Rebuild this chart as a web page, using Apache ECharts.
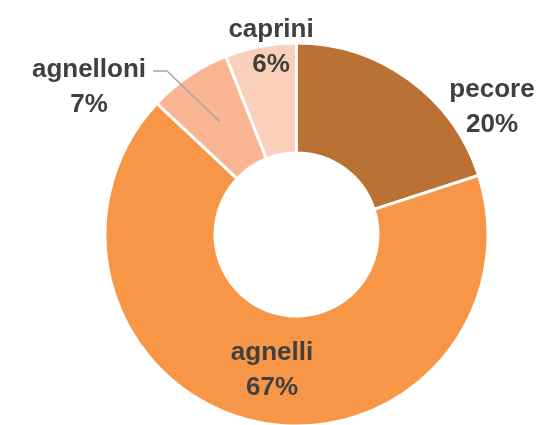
<!DOCTYPE html>
<html>
<head>
<meta charset="utf-8">
<script src="https://cdn.jsdelivr.net/npm/echarts@6/dist/echarts.min.js"></script>
<style>
html,body{margin:0;padding:0;background:#fff;}
#chart{width:551px;height:425px;}
</style>
</head>
<body>
<div id="chart"></div>
<script>
const categories = ['pecore', 'agnelli', 'agnelloni', 'caprini'];
const values = [20, 67, 7, 6];
const colors = ['#BA7134', '#F79646', '#F9B591', '#FBD0BB'];

const CX = 296.5, CY = 234.5, R_OUT = 191.5, R_IN = 81.5;
// label anchor positions (layout, not data)
const labelPos = [[492, 107], [272, 370], [89, 87], [271, 47]];

const total = values.reduce((a, b) => a + b, 0);
function midAngle(i) {
  let before = 0;
  for (let k = 0; k < i; k++) before += values[k];
  return (before + values[i] / 2) / total * Math.PI * 2; // clockwise from top
}

// leader line for "agnelloni": from slice middle to label
const li = 2;
const la = midAngle(li);
const rm = (R_IN + R_OUT) / 2;
const leaderStart = [CX + rm * Math.sin(la), CY - rm * Math.cos(la)];

const chart = echarts.init(document.getElementById('chart'));
chart.setOption({
  animation: false,
  graphic: [{
    type: 'polyline',
    z: 100,
    shape: { points: [leaderStart, [167, 71], [153, 71]] },
    style: { stroke: '#A6A6A6', lineWidth: 1.5, fill: null },
    silent: true
  }],
  series: [{
    type: 'pie',
    center: [CX, CY],
    radius: [R_IN, R_OUT],
    startAngle: 90,
    clockwise: true,
    avoidLabelOverlap: false,
    itemStyle: { borderColor: '#ffffff', borderWidth: 3 },
    label: {
      show: true,
      position: 'outside',
      formatter: '{b}\n{c}%',
      fontFamily: '"Liberation Sans", Arial, sans-serif',
      fontWeight: 'bold',
      fontSize: 26,
      lineHeight: 35,
      color: '#404040',
      align: 'center'
    },
    labelLine: { show: false },
    emphasis: { disabled: true },
    labelLayout: function (params) {
      const i = params.dataIndex;
      return { x: labelPos[i][0], y: labelPos[i][1], align: 'center', verticalAlign: 'middle' };
    },
    data: categories.map((name, i) => ({ name: name, value: values[i], itemStyle: { color: colors[i] } }))
  }]
});
</script>
</body>
</html>
